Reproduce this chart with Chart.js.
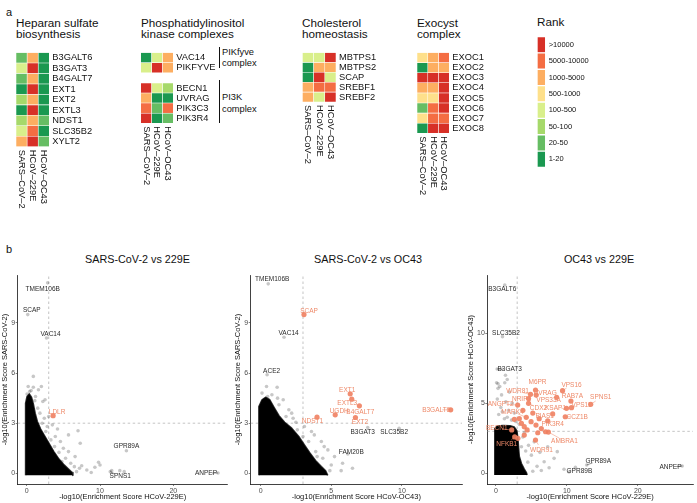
<!DOCTYPE html>
<html>
<head>
<meta charset="utf-8">
<script src="https://cdn.jsdelivr.net/npm/chart.js@4.4.1/dist/chart.umd.min.js"></script>
<style>
  body { margin: 0; background: #fff; }
  #fig { position: relative; width: 697px; height: 503px; overflow: hidden;
         font-family: 'Liberation Sans', Arial, sans-serif; color: #111; }
  #fig canvas { position: absolute; }
  .t { position: absolute; white-space: nowrap; }
  .br { position: absolute; border-left: 1px solid #111; width: 0; }
</style>
</head>
<body>
<div id="fig"></div>
<script>
// ---------- panel a: rank heatmaps ----------
const sampleNames = ['SARS–CoV–2', 'HCoV–229E', 'HCoV–OC43'];
const rankLabels = ['>10000', '5000-10000', '1000-5000', '500-1000', '100-500', '50-100', '20-50', '1-20'];

// rank class per gene (index into rankLabels) for SARS-CoV-2, 229E, OC43
const heparanGenes = ['B3GALT6', 'B3GAT3', 'B4GALT7', 'EXT1', 'EXT2', 'EXTL3', 'NDST1', 'SLC35B2', 'XYLT2'];
const heparanRanks = [[6, 2, 7], [4, 0, 7], [6, 2, 7], [7, 0, 7], [5, 2, 7], [7, 0, 7], [5, 2, 6], [4, 1, 7], [2, 0, 6]];
const pikGenes = ['VAC14', 'PIKFYVE', '', 'BECN1', 'UVRAG', 'PIK3C3', 'PIK3R4'];
const pikRanks = [[7, 4, 2], [4, 0, 2], null, [0, 4, 5], [2, 7, 7], [1, 6, 1], [0, 7, 6]];
const cholGenes = ['MBTPS1', 'MBTPS2', 'SCAP', 'SREBF1', 'SREBF2'];
const cholRanks = [[4, 4, 0], [7, 2, 2], [7, 0, 4], [2, 1, 1], [2, 4, 0]];
const exocGenes = ['EXOC1', 'EXOC2', 'EXOC3', 'EXOC4', 'EXOC5', 'EXOC6', 'EXOC7', 'EXOC8'];
const exocRanks = [[3, 2, 1], [7, 2, 2], [0, 0, 0], [2, 2, 0], [3, 3, 0], [6, 1, 0], [3, 1, 1], [7, 0, 0]];

// ---------- panel b: enrichment scatter plots ----------
const threshold = 3;

// SARS-CoV-2 (y) vs 229E (x)
const p1XTicks = [0, 10, 20];
const p1YTicks = [0, 3, 6, 9];
const p1Cloud = [[-0.15, -0.12], [-0.15, 4.2], [0.05, 4.6], [0.35, 4.75], [0.65, 4.55], [0.9, 4.15], [1.15, 3.6],
  [1.45, 3.1], [1.9, 2.65], [2.5, 2.2], [3.1, 1.75], [3.7, 1.3], [4.4, 0.85], [5.1, 0.5], [5.7, 0.25], [6.2, 0.05], [6.3, -0.12]];
const p1Points = [[0.9, 5.8], [0.2, 5.2], [0.9, 5.15], [2.0, 5.2], [0.05, 4.75], [1.6, 5.0], [0.6, 4.95], [1.2, 4.6], [2.2, 4.3],
  [1.5, 3.9], [2.5, 4.4], [1.8, 3.6], [2.4, 3.3], [3.0, 3.4], [2.1, 3.0], [2.8, 2.8], [3.5, 2.9], [4.2, 2.65], [5.7, 2.3],
  [7.0, 2.55], [7.3, 1.8], [5.7, 1.3], [6.6, 1.0], [4.6, 1.9], [3.9, 2.2], [5.0, 1.5], [4.4, 1.25], [5.3, 0.9], [6.0, 0.6],
  [7.5, 0.45], [9.8, 0.66], [10.0, 0.5], [9.3, 0.36], [8.2, 0.2], [11.6, 0.16], [12.7, 0.16], [13.3, 0.1], [6.8, 0.1],
  [7.2, 0.3], [8.8, 0.05], [6.5, 0.4], [4.8, 0.7], [3.8, 1.6], [3.3, 2.0], [2.6, 2.5], [1.1, 4.35], [0.4, 4.9]];
const p1Genes = [['TMEM106B', 2.86, 11.4], ['SCAP', 0.14, 9.5], ['VAC14', 2.7, 8.1], ['GPR89A', 13.6, 1.35],
  ['SPNS1', 11.4, 0.1], ['ANPEP', 26.1, 0.02]];
const p1Hits = [['LDLR', 3.6, 3.45]];

// SARS-CoV-2 (y) vs OC43 (x)
const p2XTicks = [0, 5, 10];
const p2YTicks = [0, 3, 6, 9];
const p2Cloud = [[-0.12, -0.12], [-0.12, 4.0], [0.1, 4.4], [0.35, 4.55], [0.65, 4.4], [0.95, 3.95], [1.3, 3.45], [1.7, 3.05],
  [2.2, 2.7], [2.7, 2.2], [3.1, 1.7], [3.5, 1.2], [3.9, 0.75], [4.3, 0.4], [4.6, 0.15], [4.75, -0.12]];
const p2Points = [[0.42, 5.2], [1.17, 5.15], [0.1, 4.8], [0.8, 4.7], [1.6, 4.4], [0.5, 4.6], [1.3, 4.1], [2.0, 3.8],
  [1.8, 3.4], [2.5, 3.06], [3.1, 2.8], [2.6, 2.6], [3.8, 2.3], [3.6, 2.5], [4.3, 1.9], [4.5, 1.6], [4.76, 1.4], [5.23, 1.0],
  [5.8, 0.6], [5.7, 0.16], [4.9, 0.16], [4.4, 0.9], [3.9, 1.3], [3.4, 1.9], [5.0, 0.5], [2.3, 3.3], [3.0, 2.2], [4.0, 1.0],
  [6.5, 0.3], [2.2, 3.6], [1.2, 4.5]];
const p2Genes = [['TMEM106B', 0.54, 11.34], ['VAC14', 1.66, 8.14], ['ACE2', 0.46, 5.9], ['B3GAT3', 7.58, 2.74],
  ['SLC35B2', 9.8, 2.7], ['FAM20B', 6.17, 1.16]];
const p2Hits = [['SCAP', 3.07, 9.5], ['EXT1', 6.34, 4.76], ['EXTL3', 6.45, 4.44], ['B4GALT7', 6.99, 4.04],
  ['UGDH', 5.28, 3.5], ['NDST1', 3.99, 3.36], ['EXT2', 6.71, 3.34], ['B3GALT6', 13.45, 3.8]];

// OC43 (y) vs 229E (x)
const p3XTicks = [0, 10, 20];
const p3YTicks = [0, 5, 10];
const p3Cloud = [[-0.15, -0.12], [-0.15, 3.2], [0.2, 3.38], [1.0, 3.42], [2.0, 3.4], [2.6, 3.3], [2.95, 3.05], [3.1, 2.5],
  [3.2, 1.8], [3.3, 1.2], [3.6, 0.7], [4.0, 0.3], [4.3, 0.05], [4.4, -0.12]];
const p3Points = [[0.3, 6.4], [1.35, 7.0], [1.6, 6.7], [0.1, 6.47], [0.55, 6.2], [1.25, 6.47], [0.3, 6.07], [0.8, 5.6],
  [1.9, 5.8], [0.2, 5.3], [1.4, 5.1], [2.3, 5.0], [0.7, 4.7], [1.8, 4.5], [2.6, 4.3], [0.4, 4.2], [1.2, 3.9], [2.2, 3.8],
  [3.3, 3.5], [0.9, 4.4], [1.6, 4.0], [2.8, 3.7], [5.4, 2.25], [7.3, 1.9], [8.2, 1.07], [9.6, 0.29], [8.65, 1.55],
  [6.8, 0.83], [4.6, 2.0], [5.0, 1.3], [4.2, 1.6], [5.8, 0.5], [6.2, 1.5], [7.5, 0.4], [4.5, 0.8], [3.8, 2.6], [3.6, 1.9],
  [10.3, 0.1], [6.4, 0.2], [4.0, 2.9], [5.2, 0.15]];
const p3Genes = [['B3GALT6', 1.25, 13.45], ['SLC35B2', 0.93, 9.76], ['B3GAT3', 0.18, 7.45], ['GPR89A', 12.8, 0.6],
  ['GPR89B', 11.2, 0.43], ['ANPEP', 26.25, 0.52]];
const p3Hits = [['M6PR', 5.58, 5.95], ['VPS16', 9.39, 5.9], ['WDR81', 4.88, 5.64], ['UVRAG', 5.68, 5.59],
  ['NRIP1', 4.6, 5.34], ['VPS33A', 8.56, 5.43], ['RAB7A', 10.57, 5.16], ['SPNS1', 13.36, 4.93], ['VPS11', 10.65, 4.69],
  ['KSAP1', 9.95, 4.64], ['CDX2', 4.6, 5.0], ['ANGPT2', 3.07, 4.88], ['MARK4', 4.28, 4.0], ['PIAS1', 8.0, 4.24],
  ['CCZ1B', 9.77, 4.04], ['PIK3R4', 7.3, 3.75], ['AMBRA1', 7.4, 2.95], ['WDR91', 5.58, 2.38], ['BECN1', 2.23, 3.1],
  ['NFKB1', 2.65, 2.6]];
const p3HitPoints = [[2.6, 3.86], [3.6, 3.57], [4.0, 3.33], [4.96, 3.69], [5.65, 3.45], [4.4, 3.1], [6.4, 3.2],
  [7.0, 2.97], [4.0, 2.73], [3.1, 2.5], [3.3, 3.9], [5.2, 4.3], [6.1, 3.9], [3.8, 4.5], [5.9, 2.9]];

// ---------- drawing ----------
const FONT = "'Liberation Sans', Arial, sans-serif";
Chart.defaults.font.family = FONT;
Chart.defaults.animation = false;
Chart.defaults.responsive = false;
Chart.defaults.plugins.legend.display = false;
Chart.defaults.plugins.tooltip.enabled = false;

const rankColors = ['#D73027', '#F46D43', '#FDAE61', '#FEE08B', '#D9EF8B', '#A6D96A', '#66BD63', '#1A9850'];
const HIT_TEXT = '#EE8A6A';
const HIT_FILL = 'rgba(240,128,96,0.9)';
const fig = document.getElementById('fig');

function canvasAt(box) {
  const cv = document.createElement('canvas');
  cv.width = box.width;
  cv.height = box.height;
  cv.style.left = box.left + 'px';
  cv.style.top = box.top + 'px';
  fig.appendChild(cv);
  return cv;
}

function text(html, left, top, size, extra) {
  const d = document.createElement('div');
  d.className = 't';
  d.innerHTML = html;
  d.style.left = left + 'px';
  d.style.top = top + 'px';
  d.style.fontSize = size + 'px';
  Object.assign(d.style, extra || {});
  fig.appendChild(d);
}

// column names under a heatmap, turned to read downwards
const colLabels = {
  id: 'colLabels',
  afterDraw(chart) {
    const { ctx, chartArea, scales: { x } } = chart;
    ctx.save();
    ctx.font = '9.3px ' + FONT;
    ctx.fillStyle = '#111';
    ctx.textAlign = 'left';
    ctx.textBaseline = 'middle';
    chart.data.datasets.forEach((d, j) => {
      ctx.save();
      ctx.translate(x.getPixelForValue(j + 0.5), chartArea.bottom + 3);
      ctx.rotate(Math.PI / 2);
      ctx.fillText(d.label, 0, 0);
      ctx.restore();
    });
    ctx.restore();
  }
};

function heatmap(area, rows, ranks, opts = {}) {
  const labelW = opts.labelW || 70, below = opts.below || 64;
  const cols = opts.cols || sampleNames;
  const left = Math.floor(area.left) - 2, top = Math.floor(area.top) - 2;
  const box = { left, top, width: Math.ceil(area.right - left + labelW), height: Math.ceil(area.bottom - top + below) };
  new Chart(canvasAt(box), {
    type: 'bar',
    data: {
      labels: rows,
      datasets: cols.map((c, j) => ({
        label: c,
        data: rows.map((g, i) => (ranks[i] ? 1 : null)),
        backgroundColor: rows.map((g, i) => (ranks[i] ? rankColors[ranks[i][j]] : 'transparent')),
        borderColor: opts.borderColor || 'rgba(255,255,255,0.55)',
        borderWidth: opts.borderWidth || 0.6,
        borderSkipped: false,
        barPercentage: 1,
        categoryPercentage: 1
      }))
    },
    options: {
      indexAxis: 'y',
      layout: { padding: { left: area.left - left, top: area.top - top, right: 0, bottom: box.top + box.height - area.bottom } },
      scales: {
        x: { stacked: true, min: 0, max: cols.length, display: false },
        y: {
          stacked: true, position: 'right',
          grid: { display: false, drawTicks: false }, border: { display: false },
          ticks: { padding: 3, color: '#111', autoSkip: false, font: { size: opts.fontSize || 9.3 } },
          afterFit: s => { s.width = box.left + box.width - area.right; }
        }
      }
    },
    plugins: opts.noCols ? [] : [colLabels]
  });
}

function labelPlugin(items, off) {
  return {
    id: 'geneLabels',
    afterDatasetsDraw(chart) {
      const { ctx, scales: { x, y } } = chart;
      ctx.save();
      ctx.font = '6.5px ' + FONT;
      ctx.textAlign = 'center';
      ctx.textBaseline = 'middle';
      items.forEach(({ g, color }) => {
        const [name, vx, vy] = g;
        const px = x.getPixelForValue(vx), py = y.getPixelForValue(vy);
        const [dx, dy] = off[name] || [0, -4];
        const len = Math.hypot(dx, dy);
        if (len > 9) {
          const k = (len - 6) / len;
          ctx.strokeStyle = color;
          ctx.lineWidth = 0.5;
          ctx.beginPath();
          ctx.moveTo(px, py);
          ctx.lineTo(px + dx * k, py + dy * k);
          ctx.stroke();
        }
        ctx.fillStyle = color;
        ctx.fillText(name, px + dx, py + dy);
      });
      ctx.restore();
    }
  };
}

function axis(range, ticks, title, fit, titlePad) {
  return {
    type: 'linear', min: range[0], max: range[1],
    afterBuildTicks: s => { s.ticks = ticks.map(v => ({ value: v })); },
    afterFit: fit,
    grid: { display: true, drawOnChartArea: false, drawTicks: true, tickLength: 2, color: '#333', lineWidth: 0.6 },
    border: { display: true, color: '#111', width: 0.8 },
    ticks: { color: '#4d4d4d', font: { size: 7 }, padding: 0.5, maxRotation: 0 },
    title: { display: true, text: title, color: '#111', font: { size: 7.5 }, padding: titlePad }
  };
}

function scatter(box, area, c) {
  const pts = a => a.map(([x, y]) => ({ x, y }));
  const named = a => a.map(([n, x, y]) => ({ x, y }));
  const dashed = { showLine: true, pointRadius: 0, borderColor: '#b5b5b5', borderWidth: 0.8, borderDash: [2.5, 2.5], fill: false };
  const items = c.genes.map(g => ({ g, color: '#2a2a2a' })).concat(c.hits.map(g => ({ g, color: HIT_TEXT })));
  new Chart(canvasAt(box), {
    type: 'scatter',
    data: {
      datasets: [
        { data: named(c.hits).concat(pts(c.hitPoints || [])), pointRadius: 2.6, backgroundColor: HIT_FILL, borderWidth: 0 },
        { data: named(c.genes).concat(pts(c.points)), pointRadius: 1.8, backgroundColor: 'rgba(0,0,0,0.22)', borderWidth: 0 },
        { data: pts(c.cloud), showLine: true, fill: 'shape', tension: 0, pointRadius: 0,
          borderColor: 'rgba(0,0,0,0.8)', borderWidth: 1.6, borderJoinStyle: 'round', backgroundColor: '#000' },
        { ...dashed, data: [{ x: threshold, y: c.y[0] }, { x: threshold, y: c.y[1] }] },
        { ...dashed, data: [{ x: c.x[0], y: threshold }, { x: c.x[1], y: threshold }] }
      ]
    },
    options: {
      layout: { padding: { left: 0, top: area.top - box.top, right: box.left + box.width - area.right, bottom: 0 } },
      scales: {
        x: axis(c.x, c.xTicks, c.xTitle, s => { s.height = box.top + box.height - area.bottom; }, { top: 0, bottom: 1.5 }),
        y: axis(c.y, c.yTicks, c.yTitle, s => { s.width = area.left - box.left; }, { top: c.yPad, bottom: 0 })
      }
    },
    plugins: [labelPlugin(items, c.off)]
  });
}

// ----- panel a -----
text('a', 6, 6, 11);
const titleStyle = { lineHeight: '11.5px' };
text('Heparan sulfate<br>biosynthesis', 16, 16.5, 11.7, titleStyle);
text('Phosphatidylinositol<br>kinase complexes', 141, 16.5, 11.7, titleStyle);
text('Cholesterol<br>homeostasis', 302, 16.5, 11.7, titleStyle);
text('Exocyst<br>complex', 417, 16.5, 11.7, titleStyle);
text('Rank', 537, 15.5, 11.7, { lineHeight: '12px' });

heatmap({ left: 16, right: 49.3, top: 46.7, bottom: 146.7 }, heparanGenes, heparanRanks);
heatmap({ left: 140.7, right: 173.3, top: 46.7, bottom: 123.3 }, pikGenes, pikRanks, { labelW: 44 });
heatmap({ left: 302.3, right: 336, top: 46.7, bottom: 102 }, cholGenes, cholRanks);
heatmap({ left: 417, right: 449.3, top: 46.7, bottom: 133.3 }, exocGenes, exocRanks);
heatmap({ left: 537, right: 545.7, top: 31, bottom: 170.7 }, rankLabels, rankLabels.map((l, i) => [i]),
  { cols: ['Rank'], noCols: true, labelW: 60, below: 4, fontSize: 7.5, borderColor: '#fff', borderWidth: 1 });

// complex brackets
const bracket = (top, h) => {
  const d = document.createElement('div');
  d.className = 'br';
  d.style.left = '219px'; d.style.top = top + 'px'; d.style.height = h + 'px';
  fig.appendChild(d);
};
bracket(47, 21);
bracket(80, 43);
text('PIKfyve<br>complex', 222, 46.5, 9.3, { lineHeight: '11px' });
text('PI3K<br>complex', 222, 90.5, 9.3, { lineHeight: '12px' });

// ----- panel b -----
text('b', 6, 243, 11);
text('SARS-CoV-2 vs 229E', 137.5, 253, 10.8, { transform: 'translateX(-50%)' });
text('SARS-CoV-2 vs OC43', 368, 253, 10.8, { transform: 'translateX(-50%)' });
text('OC43 vs 229E', 599, 253, 10.8, { transform: 'translateX(-50%)' });

scatter({ left: 0, top: 268, width: 233, height: 235 }, { left: 17.7, right: 227.7, top: 275, bottom: 484 }, {
  x: [-1.23, 27.42], y: [-0.64, 11.87], xTicks: p1XTicks, yTicks: p1YTicks,
  xTitle: '-log10(Enrichment Score HCoV-229E)', yTitle: '-log10(Enrichment Score SARS-CoV-2)', yPad: 0.5,
  cloud: p1Cloud, points: p1Points, genes: p1Genes, hits: p1Hits,
  off: { TMEM106B: [-5, 6], SCAP: [4, -4], VAC14: [4, -3.5], GPR89A: [0, -4.5], SPNS1: [10, 5], ANPEP: [-12, 0], LDLR: [4, -3] }
});

scatter({ left: 233, top: 268, width: 233, height: 235 }, { left: 250.7, right: 463, top: 275, bottom: 484 }, {
  x: [-0.7, 14.25], y: [-0.64, 11.87], xTicks: p2XTicks, yTicks: p2YTicks,
  xTitle: '-log10(Enrichment Score HCoV-OC43)', yTitle: '-log10(Enrichment Score SARS-CoV-2)', yPad: 0.8,
  cloud: p2Cloud, points: p2Points, genes: p2Genes, hits: p2Hits,
  off: { TMEM106B: [4, -4.5], VAC14: [4.5, -4], ACE2: [4.5, -3.5], B3GAT3: [-5, 5], SLC35B2: [-5, 4.5], FAM20B: [3.5, -2],
    SCAP: [5, -3.5], EXT1: [-3, -4], EXTL3: [-4.5, 4.5], B4GALT7: [1, 6], UGDH: [4, -3.5], NDST1: [-4.5, 4.5],
    EXT2: [4.5, 5], B3GALT6: [-14.5, 0] }
});

scatter({ left: 466, top: 268, width: 231, height: 235 }, { left: 487.3, right: 695, top: 275, bottom: 484 }, {
  x: [-1.21, 27.77], y: [-0.76, 14.16], xTicks: p3XTicks, yTicks: p3YTicks,
  xTitle: '-log10(Enrichment Score HCoV-229E)', yTitle: '-log10(Enrichment Score HCoV-OC43)', yPad: 0,
  cloud: p3Cloud, points: p3Points, genes: p3Genes, hits: p3Hits, hitPoints: p3HitPoints,
  off: { B3GALT6: [-2.5, 4], SLC35B2: [3.5, -3.3], B3GAT3: [12.5, 0], GPR89A: [11.5, -4], GPR89B: [4, 4], ANPEP: [-11.7, 1],
    M6PR: [2, -8], VPS16: [9, -6], WDR81: [-13, -3], UVRAG: [9, -2], NRIP1: [-7, 0.5], VPS33A: [-8, 3], RAB7A: [1.5, -5],
    SPNS1: [10, -6.6], VPS11: [10, -2.7], KSAP1: [-11, 0], CDX2: [10, 5], ANGPT2: [-17, -1], MARK4: [-13.7, -5.6],
    PIAS1: [-8, 2], CCZ1B: [12, 0], PIK3R4: [5, 3.3], AMBRA1: [16, 9], WDR91: [6, 10], BECN1: [-15, -1.5], NFKB1: [-8, 7] }
});
</script>
</body>
</html>
